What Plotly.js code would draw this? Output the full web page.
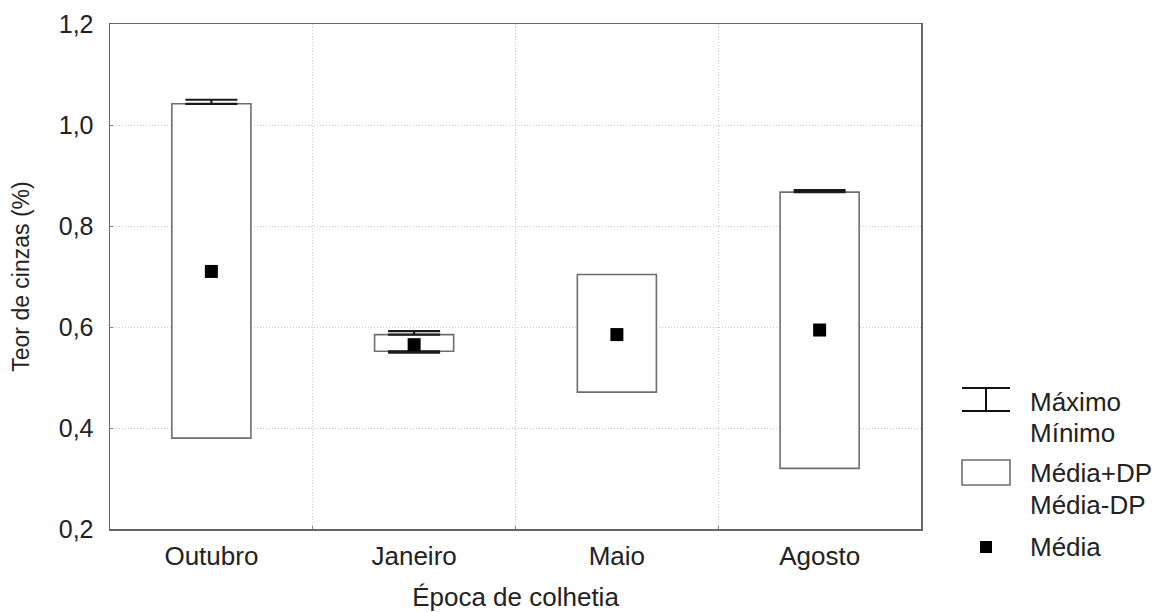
<!DOCTYPE html>
<html>
<head>
<meta charset="utf-8">
<script src="https://cdn.plot.ly/plotly-3.0.1.min.js"></script>
<style>html,body{margin:0;padding:0;background:#fff;}#chart{width:1161px;height:612px;}</style>
</head>
<body>
<div id="chart"></div>
<script>
// Data
const categories = ["Outubro", "Janeiro", "Maio", "Agosto"];
const media      = [0.710, 0.565, 0.585, 0.594];
const mediaMaisDP  = [1.042, 0.585, 0.704, 0.867];
const mediaMenosDP = [0.380, 0.552, 0.471, 0.320];
const maximo = [1.050, 0.592, 0.704, 0.871];
const minimo = [0.380, 0.549, 0.471, 0.320];
const yTicks = [0.2, 0.4, 0.6, 0.8, 1.0, 1.2];

const xIdx = categories.map((c, i) => i);
const FONT = "Liberation Sans, Arial, sans-serif";
const TXT = "#222";
const GRID = "#c8c8c8";

// Boxes (Média ± DP)
const boxTrace = {
  type: "bar",
  x: xIdx,
  base: mediaMenosDP,
  y: mediaMaisDP.map((v, i) => v - mediaMenosDP[i]),
  width: 0.39,
  marker: {color: "#ffffff", line: {color: "#6e6e6e", width: 1.6}},
  hoverinfo: "skip",
  showlegend: false
};

// Upper whiskers (Máximo) where it lies above the box
const upI = xIdx.filter(i => maximo[i] - mediaMaisDP[i] > 0.001);
const upTrace = {
  type: "scatter", mode: "markers",
  x: upI, y: upI.map(i => mediaMaisDP[i]),
  marker: {opacity: 0, size: 1},
  error_y: {type: "data", symmetric: false,
    array: upI.map(i => maximo[i] - mediaMaisDP[i]),
    arrayminus: upI.map(() => 0),
    color: "#1a1a1a", thickness: 2.2, width: 26},
  hoverinfo: "skip", showlegend: false
};
// Lower whiskers (Mínimo) where it lies below the box
const loI = xIdx.filter(i => mediaMenosDP[i] - minimo[i] > 0.001);
const loTrace = {
  type: "scatter", mode: "markers",
  x: loI, y: loI.map(i => mediaMenosDP[i]),
  marker: {opacity: 0, size: 1},
  error_y: {type: "data", symmetric: false,
    array: loI.map(() => 0),
    arrayminus: loI.map(i => mediaMenosDP[i] - minimo[i]),
    color: "#1a1a1a", thickness: 2.2, width: 26},
  hoverinfo: "skip", showlegend: false
};
// Means
const meanTrace = {
  type: "scatter", mode: "markers",
  x: xIdx, y: media,
  marker: {symbol: "square", size: 13, color: "#000"},
  showlegend: false
};
// Invisible trace on secondary x axis for category-boundary grid lines
const gridTrace = {
  type: "scatter", mode: "markers", x: [0.5, 1.5, 2.5], y: [0.2, 0.2, 0.2],
  xaxis: "x2", marker: {opacity: 0}, hoverinfo: "skip", showlegend: false
};

// Legend built in pixel space converted to paper coords
const L = 110, R = 921, T = 24, B = 529;
const px = v => (v - L) / (R - L);
const py = v => (B - v) / (B - T);
const shapes = [
  {type: "line", xref: "paper", yref: "paper", x0: px(962), x1: px(1010), y0: py(388), y1: py(388), line: {color: "#111", width: 2}},
  {type: "line", xref: "paper", yref: "paper", x0: px(962), x1: px(1010), y0: py(411), y1: py(411), line: {color: "#111", width: 2}},
  {type: "line", xref: "paper", yref: "paper", x0: px(986), x1: px(986), y0: py(388), y1: py(411), line: {color: "#111", width: 2}},
  {type: "rect", xref: "paper", yref: "paper", x0: px(962), x1: px(1010), y0: py(460), y1: py(485), line: {color: "#6e6e6e", width: 1.6}, fillcolor: "#fff"},
  {type: "rect", xref: "paper", yref: "paper", x0: px(980), x1: px(992), y0: py(541), y1: py(553), line: {width: 0}, fillcolor: "#000"}
];
const legTexts = [["Máximo", 402], ["Mínimo", 433], ["Média+DP", 473], ["Média-DP", 505], ["Média", 547]];
const annotations = legTexts.map(([t, y]) => ({
  text: t, xref: "paper", yref: "paper", x: px(1028), y: py(y),
  xanchor: "left", yanchor: "middle", showarrow: false,
  font: {family: FONT, size: 26, color: TXT}
}));

const layout = {
  width: 1161, height: 612,
  margin: {l: L, r: 1161 - R, t: T, b: 612 - B, pad: 0},
  paper_bgcolor: "#fff", plot_bgcolor: "#fff",
  separators: ",.",
  font: {family: FONT, color: TXT},
  xaxis: {
    range: [-0.5, 3.5], tickvals: xIdx, ticktext: categories,
    showgrid: false, zeroline: false, ticks: "",
    showline: true, mirror: true, linecolor: "#666", linewidth: 1.5,
    ticklabelstandoff: 3,
    tickfont: {family: FONT, size: 26, color: TXT},
    title: {text: "Época de colhetia", font: {family: FONT, size: 26, color: TXT}, standoff: 24}
  },
  xaxis2: {
    overlaying: "x", matches: "x", range: [-0.5, 3.5], tickvals: [0.5, 1.5, 2.5],
    showticklabels: false, showgrid: true, gridcolor: GRID, griddash: "1px,2px", gridwidth: 1,
    ticks: "inside", ticklen: 3, tickcolor: "#888", zeroline: false, showline: false
  },
  yaxis: {
    range: [0.2, 1.2], tickvals: yTicks, tickformat: ".1f",
    showgrid: true, gridcolor: GRID, griddash: "1px,2px", gridwidth: 1,
    zeroline: false, ticks: "inside", ticklen: 3, tickcolor: "#888",
    showline: true, mirror: true, linecolor: "#666", linewidth: 1.5,
    ticklabelstandoff: 10,
    tickfont: {family: FONT, size: 25, color: TXT},
    title: {text: "Teor de cinzas (%)", font: {family: FONT, size: 23, color: TXT}, standoff: 22}
  },
  shapes: shapes,
  annotations: annotations,
  bargap: 0
};

Plotly.newPlot("chart", [gridTrace, boxTrace, upTrace, loTrace, meanTrace], layout, {staticPlot: true, displayModeBar: false});
</script>
</body>
</html>
